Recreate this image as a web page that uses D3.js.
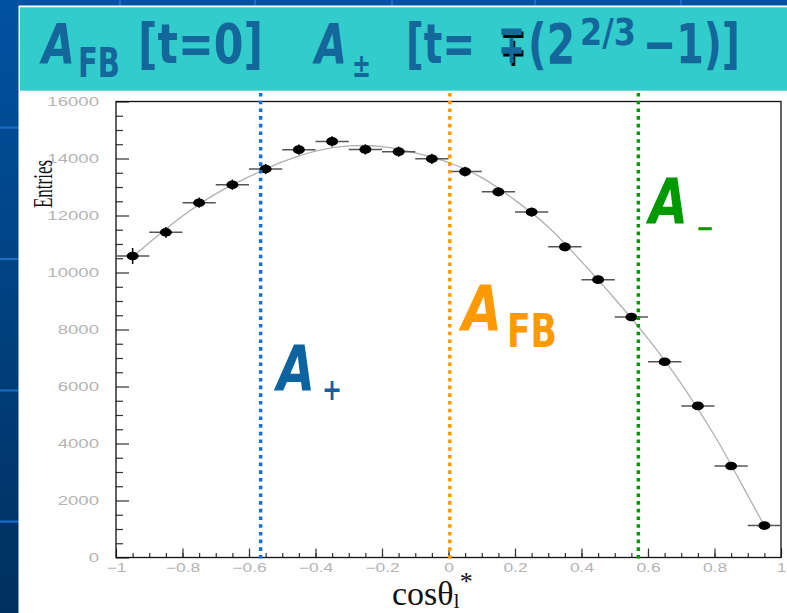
<!DOCTYPE html>
<html><head><meta charset="utf-8">
<script src="https://cdn.jsdelivr.net/npm/d3@7"></script>
<style>html,body{margin:0;padding:0;background:#fff;overflow:hidden}</style>
</head><body>
<svg id="c" width="787" height="613" xmlns="http://www.w3.org/2000/svg"></svg>
<script>
// ---------- data ----------
const binCenters = [-0.95,-0.85,-0.75,-0.65,-0.55,-0.45,-0.35,-0.25,-0.15,-0.05,0.05,0.15,0.25,0.35,0.45,0.55,0.65,0.75,0.85,0.95];
const entries    = [10580,11410,12450,13080,13630,14310,14600,14320,14240,13990,13540,12830,12120,10900,9750,8440,6870,5320,3210,1120];
const entryErrors = [280,190,180,180,180,180,180,180,180,180,170,160,160,150,140,130,110,100,80,60];
const binHalfWidth = 0.05;
const fitX = [-0.95,-0.9,-0.8,-0.7,-0.6,-0.5,-0.4,-0.3,-0.2,-0.1,0,0.1,0.2,0.3,0.4,0.5,0.6,0.7,0.8,0.9,0.95];
const fitY = [10560,11040,11980,12760,13360,13880,14260,14440,14420,14200,13860,13330,12540,11600,10380,9080,7680,6100,4280,2180,1117];
const markerX = [-0.565, 0.004, 0.571];
const xTickValues = [-1,-0.8,-0.6,-0.4,-0.2,0,0.2,0.4,0.6,0.8,1];
const yTickValues = [0,2000,4000,6000,8000,10000,12000,14000,16000];
const xLabel = "cosθ", xLabelSub = "l", xLabelSup = "*";
const yLabel = "Entries";

// ---------- layout ----------
const svg = d3.select("#c");
const x = d3.scaleLinear().domain([-1,1]).range([116,781]);
const y = d3.scaleLinear().domain([0,16000]).range([557.5,101.5]);

// background slide
const defs = svg.append("defs");
const g1 = defs.append("linearGradient").attr("id","bg").attr("x1",0).attr("y1",0).attr("x2",0).attr("y2",1);
g1.append("stop").attr("offset","0%").attr("stop-color","#0152a2");
g1.append("stop").attr("offset","100%").attr("stop-color","#00305e");
const sh = defs.append("filter").attr("id","shadow").attr("x","-20%").attr("y","-20%").attr("width","160%").attr("height","160%");
sh.append("feDropShadow").attr("dx",3).attr("dy",3).attr("stdDeviation",0.4).attr("flood-color","#000").attr("flood-opacity",1);
svg.append("rect").attr("width",787).attr("height",613).attr("fill","url(#bg)");
[127.7,259,390.5,521.7].forEach(v=>svg.append("line").attr("x1",0).attr("x2",787).attr("y1",v).attr("y2",v).attr("stroke","#1a6cc6").attr("stroke-width",2.2));
[120,255,392,535,681].forEach(v=>svg.append("line").attr("x1",v).attr("x2",v).attr("y1",0).attr("y2",613).attr("stroke","#1a6cc6").attr("stroke-width",2.2));
svg.append("rect").attr("x",18.5).attr("y",5.5).attr("width",770).attr("height",610).attr("fill","#ffffff");
svg.append("rect").attr("x",20).attr("y",7.3).attr("width",767).attr("height",83.4).attr("fill","#33cccc");

// text piece stretched horizontally to a target width via transform
function piece(p, col){
  const t = svg.append("text").attr("font-family","DejaVu Sans").attr("font-weight","bold")
    .attr("font-style",p.it?"oblique":"normal").attr("font-size",p.fs).attr("fill",col).text(p.t);
  const w0 = t.node().getComputedTextLength();
  t.attr("transform",`translate(${p.x},${p.y}) scale(${p.w/w0},1)`);
  if(p.sh) t.attr("filter","url(#shadow)");
  return t;
}

// title
const tColor = "#14679b";
const titleParts = [
  {t:"A", x:42, w:33, fs:55, y:63, it:1},
  {t:"FB", x:78, w:42, fs:41, y:77},
  {t:"[t=0]", x:138, w:125, fs:55, y:63},
  {t:"A", x:315, w:32, fs:55, y:63, it:1},
  {t:"±", x:352, w:19, fs:34, y:77},
  {t:"[t=", x:406, w:69, fs:55, y:63},
  {t:"∓", x:498, w:27, fs:55, y:63, sh:1},
  {t:"(2", x:528, w:47, fs:55, y:63},
  {t:"2/3", x:580, w:56, fs:38, y:45},
  {t:"−1)]", x:643, w:97, fs:55, y:63}
];
titleParts.forEach(p=>piece(p,tColor));

// axes
const yAxis = d3.axisLeft(y).tickValues(yTickValues).tickSize(-13).tickPadding(17).tickFormat(d3.format("d"));
const yMinor = d3.axisLeft(y).tickValues(d3.range(500,16000,500).filter(v=>v%2000)).tickSize(-7).tickFormat("");
const xAxis = d3.axisBottom(x).tickValues(xTickValues).tickSize(-9).tickPadding(5.5).tickFormat(d3.format("~g"));
const xMinor = d3.axisBottom(x).tickValues(d3.range(-0.95,1,0.05)).tickSize(-4.5).tickFormat("");

const gy = svg.append("g").attr("transform","translate(116,0)").call(yAxis);
svg.append("g").attr("transform","translate(116,0)").call(yMinor);
const gx = svg.append("g").attr("transform","translate(0,557.5)").call(xAxis);
svg.append("g").attr("transform","translate(0,557.5)").call(xMinor);
svg.selectAll(".domain").remove();
svg.selectAll(".tick line").attr("stroke","#333").attr("stroke-width",1.2);
svg.selectAll(".tick text").attr("font-family","Liberation Sans, Arial, sans-serif").attr("font-size",12).attr("fill","#b4b4b4");
gy.selectAll(".tick text").each(function(){const w=this.getComputedTextLength();d3.select(this).attr("textLength",w*1.55).attr("lengthAdjust","spacingAndGlyphs");});
gx.selectAll(".tick text").each(function(){const w=this.getComputedTextLength();d3.select(this).attr("textLength",w*1.45).attr("lengthAdjust","spacingAndGlyphs");});

// frame
svg.append("rect").attr("x",x(-1)).attr("y",y(16000)).attr("width",x(1)-x(-1)).attr("height",y(0)-y(16000))
  .attr("fill","none").attr("stroke","#111").attr("stroke-width",1.3);

// axis titles
svg.append("text").attr("transform","translate(52,184) rotate(-90) scale(1,1.6)").attr("text-anchor","middle")
  .attr("font-family","Liberation Serif, Times New Roman, serif").attr("font-size",17).attr("fill","#111").text(yLabel);
const xt = svg.append("text").attr("x",392).attr("y",604.5).attr("font-family","Liberation Serif, Times New Roman, serif")
  .attr("font-size",34).attr("fill","#111").text(xLabel);
xt.append("tspan").attr("font-size",22).attr("dy",3.5).text(xLabelSub);
xt.append("tspan").attr("font-size",26).attr("dy",-18).text(xLabelSup);

// fit curve
const pts = fitX.map((v,i)=>[x(v),y(fitY[i])]);
svg.append("path").attr("d",d3.line().curve(d3.curveCatmullRom)(pts)).attr("fill","none").attr("stroke","#b0b0b0").attr("stroke-width",1.3);

// data points
const dg = svg.append("g");
binCenters.forEach((c,i)=>{
  dg.append("line").attr("x1",x(c-binHalfWidth)).attr("x2",x(c+binHalfWidth)).attr("y1",y(entries[i])).attr("y2",y(entries[i]))
    .attr("stroke","#555").attr("stroke-width",1.5);
  dg.append("line").attr("x1",x(c)).attr("x2",x(c)).attr("y1",y(entries[i]-entryErrors[i])).attr("y2",y(entries[i]+entryErrors[i]))
    .attr("stroke","#000").attr("stroke-width",1.5);
  dg.append("ellipse").attr("cx",x(c)).attr("cy",y(entries[i])).attr("rx",6).attr("ry",4.3).attr("fill","#000");
});

// dotted marker lines
const mColors = ["#1a6fd2","#ff9900","#009a00"];
markerX.forEach((m,i)=>{
  svg.append("line").attr("x1",x(m)).attr("x2",x(m)).attr("y1",93).attr("y2",561)
    .attr("stroke",mColors[i]).attr("stroke-width",3.5).attr("stroke-dasharray","3.6,4.1");
});

// labels on plot
piece({t:"A",x:277,y:390,w:38,fs:62,it:1},"#0b64a0");
piece({t:"+",x:322,y:400,w:20,fs:30},"#0b64a0");
piece({t:"A",x:462,y:330,w:40,fs:62,it:1},"#ff9900");
piece({t:"FB",x:507,y:347,w:50,fs:47},"#ff9900");
piece({t:"A",x:649,y:223,w:39,fs:62,it:1},"#009a00");
piece({t:"−",x:696,y:236.5,w:18,fs:26},"#009a00");
</script>
</body></html>
